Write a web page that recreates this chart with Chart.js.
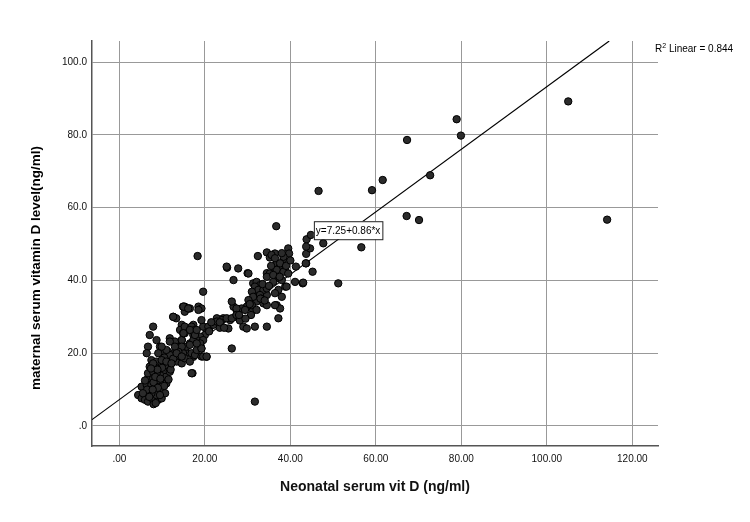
<!DOCTYPE html>
<html>
<head>
<meta charset="utf-8">
<script src="https://cdn.jsdelivr.net/npm/chart.js@4.4.1/dist/chart.umd.min.js"></script>
<style>
  body { margin: 0; background: #fff; }
  #wrap { width: 750px; height: 522px; }
</style>
</head>
<body>
<div id="wrap"><canvas id="chart" width="750" height="522"></canvas></div>
<script>
//DATA
// neonatal serum vit D (x) / maternal serum vitamin D (y)
let neonatal = [
  105, 78.9, 79.9, 67.3, 72.7, 67.2, 70.1, 114.1, 61.6, 59.1, 46.6, 56.6, 51.2, 47.7, 45.2, 42.9,
  43.7, 43.7, 44.6, 43.8, 44.8, 43.7, 36.7, 18.3, 32.4, 31.7, 17.1, 26.3,
  34.5, 36.4, 35.2, 39.5, 39.7, 38.4, 36.8, 37.6, 38.8, 36.4, 34.5, 37.2, 36.0, 38.0, 38.8, 41.1,
  43.0, 41.3, 43.6, 25.2, 27.8, 30.0, 26.7, 19.6,
  35.6, 36.4, 38.4, 37.6, 36.8, 38.4, 39.5, 35.2, 34.5, 39.1, 37.2, 38.0, 36.4, 34.5, 31.3, 32.1,
  32.9, 31.7, 30.6, 32.1, 29.8, 31.3, 33.7, 36.8, 37.6, 37.2, 34.5, 31.7, 29.0, 27.4, 26.7, 25.1, 30.2,
  32.1, 32.9, 31.7, 32.5, 31.0, 33.7, 31.3, 32.9, 30.2, 31.0, 28.6, 29.4, 32.1, 34.5, 34.5, 36.4,
  29.8, 27.4, 26.3, 27.1, 25.9, 24.3, 22.8, 22.4, 21.2, 20.4, 20.0, 18.5, 19.2, 14.9, 16.1, 15.3,
  12.6, 13.3, 14.6, 14.2, 15.3, 17.3, 17.7, 17.3, 18.9, 19.6, 18.1, 11.8, 14.6, 16.5, 18.9, 14.2,
  11.4, 13.4, 15.7, 17.3, 20.4, 25.5, 9.5, 10.3,
  4.4, 5.2, 6.0, 6.7, 7.9, 9.1, 9.9, 8.7, 7.5, 6.0, 5.2, 6.4, 7.5, 8.7, 9.9, 10.7,
  6.7, 7.9, 9.1, 10.3, 11.0, 6.7, 7.9, 9.1, 10.3, 11.0, 7.1, 8.3, 9.5, 10.7, 11.8, 7.5,
  8.7, 9.9, 11.0, 12.2, 13.4, 14.6, 14.2, 13.0, 11.8, 11.0, 9.9, 9.1, 7.9, 6.7, 6.4, 7.1,
  7.9, 13.0, 14.9, 15.3, 16.5, 15.7, 16.9, 17.7, 18.1, 17.3, 14.6, 14.9, 15.3, 16.9, 17.7, 12.6,
  15.3, 16.5, 18.5, 19.2, 17.7, 19.6, 19.2, 19.2, 16.9, 14.6, 11.8, 13.8,
  8.0, 7.0, 8.5, 9.5, 6.5, 5.5, 10.5, 8.0, 9.0, 7.8, 6.0, 8.4, 9.6, 10.0, 8.9, 7.4,
  11.5, 12.0, 12.6, 10.5,
  15.0, 16.1, 16.5, 15.0, 18.1, 20.8, 22.0, 22.8, 24.0, 25.1, 26.3, 27.4, 18.9, 19.2, 16.5, 13.0,
  8.7, 9.9, 11.0, 12.2, 13.4, 14.6, 19.6, 20.4, 18.1, 21.5, 23.5, 28.2, 30.8, 33.2,
  33.5, 35.0, 36.0, 37.5, 39.0, 40.0, 38.0, 35.5, 33.0, 34.0, 30.5, 28.0, 29.5, 23.5, 21.0, 24.5
];
let maternal = [
  89.2, 84.3, 79.8, 78.6, 68.9, 57.7, 56.6, 56.7, 67.6, 64.8, 64.6, 49.1, 39.2, 50.2, 42.4, 39.2,
  44.7, 47.3, 48.8, 51.3, 52.5, 49.3, 54.9, 46.7, 46.7, 6.7, 14.5, 21.3,
  47.7, 47.4, 46.3, 48.8, 47.4, 45.9, 44.7, 43.8, 42.9, 42.4, 42.0, 40.6, 39.6, 40.1, 38.3, 39.6,
  39.4, 43.8, 44.7, 43.5, 43.3, 42.0, 40.1, 36.9,
  47.0, 46.1, 46.5, 44.7, 42.9, 42.4, 41.9, 41.9, 41.0, 38.3, 37.4, 35.5, 36.5, 36.0, 39.2, 38.3,
  36.9, 35.5, 34.6, 34.2, 32.8, 31.9, 33.7, 33.2, 32.3, 29.6, 27.3, 27.3, 27.3, 31.9, 32.8, 43.8, 41.9,
  39.6, 38.7, 38.3, 37.4, 36.9, 37.4, 35.5, 36.0, 34.6, 33.2, 32.3, 31.9, 31.9, 37.8, 33.2, 33.2,
  26.8, 32.3, 34.2, 30.0, 29.1, 29.6, 29.6, 28.2, 27.3, 26.4, 25.0, 32.8, 32.3, 32.8, 32.3, 31.4,
  30.0, 29.6, 27.8, 26.4, 25.5, 27.8, 26.4, 25.0, 24.5, 27.3, 23.6, 24.1, 23.6, 22.7, 22.2, 21.8,
  20.4, 20.0, 20.0, 19.0, 19.0, 26.8, 21.8, 20.0,
  8.5, 7.6, 7.2, 6.7, 7.2, 7.2, 7.6, 8.5, 9.0, 9.4, 10.8, 11.3, 11.3, 10.8, 9.9, 9.0,
  13.1, 13.1, 12.6, 12.2, 11.7, 14.5, 14.9, 14.5, 14.0, 13.6, 16.3, 16.8, 16.3, 15.4, 14.9, 18.1,
  17.7, 17.2, 16.8, 17.7, 17.7, 17.2, 19.1, 20.0, 19.5, 20.9, 21.8, 20.0, 17.2, 21.8, 20.0, 25.0,
  27.3, 23.2, 20.0, 18.6, 17.7, 21.8, 20.0, 19.5, 20.9, 23.6, 23.6, 25.5, 27.3, 27.3, 26.4, 30.0,
  32.8, 32.3, 31.9, 29.1, 25.0, 23.6, 21.3, 19.1, 14.5, 21.8, 23.2, 20.4,
  6.0, 8.0, 6.3, 8.5, 10.0, 9.0, 11.0, 12.0, 10.5, 10.0, 12.5, 13.5, 13.0, 16.0, 15.5, 15.8,
  12.8, 15.5, 18.5, 18.8,
  32.8, 32.3, 26.4, 25.5, 26.4, 27.3, 27.8, 28.7, 29.1, 29.6, 29.6, 30.5, 22.7, 21.3, 22.3, 21.8,
  23.6, 18.1, 17.7, 17.2, 20.0, 19.1, 19.1, 19.1, 22.7, 28.5, 27.0, 29.0, 30.5, 35.0,
  39.0, 38.5, 41.5, 41.0, 44.0, 45.5, 47.5, 44.0, 35.0, 34.5, 33.5, 30.5, 29.5, 28.5, 26.0, 27.0
];

// tick labels
let xTicks = [0, 20, 40, 60, 80, 100, 120];
let yTicks = [0, 20, 40, 60, 80, 100];

// fit line
let intercept = 7.25;
let slope = 0.86;
let rSquared = 0.844;

let xRange = [-6.4, 126];
let yRange = [-5.5, 105.8];

let points = neonatal.map((x, i) => ({ x: x, y: maternal[i] }));

// line from the left edge until it leaves the top
let xEnd = (yRange[1] - intercept) / slope;
let fitLine = [
  { x: xRange[0], y: intercept + slope * xRange[0] },
  { x: xEnd, y: intercept + slope * xEnd }
];

let FONT = "'Liberation Sans', Arial, sans-serif";

//EXTRA TEXT (R2, equation, y title)
let annotations = {
  id: 'annotations',
  afterDraw(chart) {
    let ctx = chart.ctx;
    let xs = chart.scales.x;
    let ys = chart.scales.y;
    ctx.save();

    // R2 label
    ctx.fillStyle = '#000';
    ctx.textBaseline = 'alphabetic';
    ctx.textAlign = 'left';
    ctx.font = '10px ' + FONT;
    let rx = 655, ry = 52;
    ctx.fillText('R', rx, ry);
    let w = ctx.measureText('R').width;
    ctx.font = '7px ' + FONT;
    ctx.fillText('2', rx + w, ry - 4);
    let w2 = ctx.measureText('2').width;
    ctx.font = '10px ' + FONT;
    ctx.fillText(' Linear = ' + rSquared.toFixed(3), rx + w + w2, ry);

    // equation box
    let eq = 'y=' + intercept.toFixed(2) + '+' + slope.toFixed(2) + '*x';
    ctx.font = '10px ' + FONT;
    let bx = xs.getPixelForValue(45.5);
    let by = ys.getPixelForValue(53.8);
    let tw = ctx.measureText(eq).width;
    ctx.fillStyle = '#fff';
    ctx.fillRect(bx, by - 9, tw + 4, 18);
    ctx.strokeStyle = '#222';
    ctx.lineWidth = 1;
    ctx.strokeRect(bx + 0.5, by - 8.5, tw + 4, 18);
    ctx.fillStyle = '#000';
    ctx.textBaseline = 'middle';
    ctx.fillText(eq, bx + 2, by + 1);

    // y axis title
    ctx.translate(36, 268);
    ctx.rotate(-Math.PI / 2);
    ctx.textAlign = 'center';
    ctx.textBaseline = 'middle';
    ctx.font = 'bold 13.5px ' + FONT;
    ctx.fillText('maternal serum vitamin D level(ng/ml)', 0, 0);
    ctx.restore();
  }
};

//CHART
let canvas = document.getElementById('chart');

let config = {
  data: {
    datasets: [
      {
        type: 'scatter',
        label: 'observed',
        data: points,
        pointRadius: 3.7,
        pointBackgroundColor: '#2b2b2b',
        pointBorderColor: '#000',
        pointBorderWidth: 1,
        order: 0
      },
      {
        type: 'line',
        label: 'Linear',
        data: fitLine,
        borderColor: '#000',
        borderWidth: 1.2,
        pointRadius: 0,
        fill: false,
        order: 1
      }
    ]
  },
  options: {
    responsive: false,
    animation: false,
    devicePixelRatio: 1,
    layout: {
      padding: { left: 0, top: 41, right: 92, bottom: 26.6 }
    },
    plugins: {
      legend: { display: false },
      tooltip: { enabled: false }
    },
    scales: {
      x: {
        type: 'linear',
        min: xRange[0],
        max: xRange[1],
        afterBuildTicks: function (scale) {
          scale.ticks = xTicks.map(v => ({ value: v }));
        },
        afterFit: function (scale) {
          scale.height = 49.4;
        },
        ticks: {
          padding: 7,
          color: '#111',
          font: { family: FONT, size: 10 },
          callback: function (v) {
            return v === 0 ? '.00' : v.toFixed(2);
          }
        },
        grid: { color: '#999', lineWidth: 1, drawTicks: false },
        border: { display: true, color: '#555', width: 1.5 },
        title: {
          display: true,
          text: 'Neonatal serum vit D (ng/ml)',
          color: '#111',
          font: { family: FONT, size: 14, weight: 'bold' },
          padding: 0
        }
      },
      y: {
        type: 'linear',
        min: yRange[0],
        max: yRange[1],
        afterBuildTicks: function (scale) {
          scale.ticks = yTicks.map(v => ({ value: v }));
        },
        afterFit: function (scale) {
          scale.width = 92;
        },
        ticks: {
          padding: 5,
          color: '#111',
          font: { family: FONT, size: 10 },
          callback: function (v) {
            return v === 0 ? '.0' : v.toFixed(1);
          }
        },
        grid: { color: '#999', lineWidth: 1, drawTicks: false },
        border: { display: true, color: '#555', width: 1.5 }
      }
    }
  },
  plugins: [annotations]
};

let scatterChart = new Chart(canvas, config);
</script>
</body>
</html>
